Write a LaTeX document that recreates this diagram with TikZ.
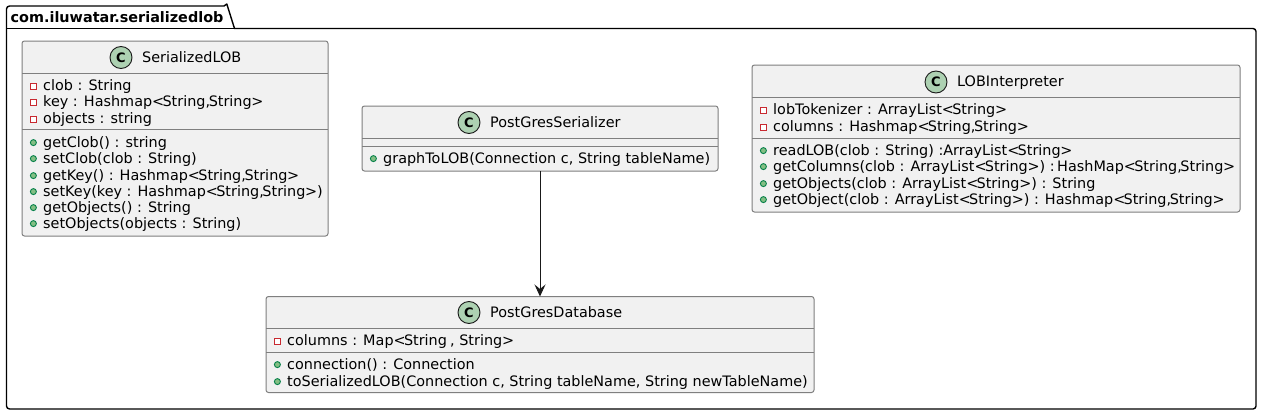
\documentclass[tikz,border=0pt]{standalone}
\usepackage{fontspec}
\setmainfont{DejaVu Sans}
\usetikzlibrary{arrows.meta}
\definecolor{boxfill}{HTML}{F1F1F1}
\definecolor{boxline}{HTML}{7F7F7F}
\definecolor{spot}{HTML}{ADD1B2}
\definecolor{privred}{HTML}{C82930}
\definecolor{privfill}{HTML}{FFFFFF}
\definecolor{pubgreen}{HTML}{84BE84}
\definecolor{publine}{HTML}{038048}
\newcommand{\lta}{<\kern-1.7pt}
\newcommand{\gta}{\kern-0.3pt>}
\newcommand{\cma}{,\kern-1.4pt}
\tikzset{
  x=1pt,y=-1pt,
  classbox/.style={draw=boxline,fill=boxfill,line width=1pt,rounded corners=2.5pt,anchor=north west,inner sep=0pt,outer sep=0pt},
  sepline/.style={draw=boxline,line width=1pt},
  spotmark/.style={circle,draw=black!90,fill=spot,line width=0.9pt,minimum size=22pt,inner sep=0pt,font=\fontsize{13}{13}\selectfont\bfseries},
  title/.style={anchor=base west,inner sep=0pt,font=\fontsize{14.4}{14.4}\selectfont},
  member/.style={anchor=base west,inner sep=0pt,font=\fontsize{14.4}{14.4}\selectfont},
  pkgline/.style={draw=black,line width=1.4pt,line join=round},
  conn/.style={draw=black!90,line width=0.9pt,-{Stealth[length=12pt,width=11pt,inset=4.5pt]}}
}
\newcommand{\privm}[4]{%
  \draw[privred,fill=privfill,line width=0.9pt] (#2+8.3,#3-6.7) rectangle (#2+14.3,#3-0.7);
  \node[member] (#1) at (#2+21,#3) {#4};}
\newcommand{\pubm}[4]{%
  \fill[pubgreen,draw=publine,line width=0.9pt] (#2+11.4,#3-4.4) circle[radius=3pt];
  \node[member] (#1) at (#2+21,#3) {#4};}
\begin{document}
\begin{tikzpicture}
\useasboundingbox (0,0) rectangle (1262,415);
% package
\draw[pkgline,fill=white] (6.5,28.5) -- (6.5,9) arc[start angle=180,end angle=270,radius=3] -- (224,6) arc[start angle=90,end angle=20,radius=3] -- (234.5,28.5) -- (1253,28.5) arc[start angle=-90,end angle=0,radius=3] -- (1256,406) arc[start angle=0,end angle=90,radius=3] -- (9.5,409) arc[start angle=90,end angle=180,radius=3] -- cycle;
\draw[pkgline] (6.5,28.5) -- (234.5,28.5);
\node[anchor=base west,inner sep=0pt,font=\fontsize{14.4}{14.4}\selectfont\bfseries] (pkg) at (10.5,22.5) {com.iluwatar.serializedlob};

% SerializedLOB
\node[classbox,minimum width=306pt,minimum height=195pt] (lob) at (22,41) {};
\draw[sepline] (22,73.5) -- (328,73.5) (22,129.5) -- (328,129.5);
\node[spotmark] (lobc) at (121,57.5) {C};
\node[title] (lobt) at (142,62) {SerializedLOB};
\privm{l1}{22}{90}{clob : String}
\privm{l2}{22}{106}{key : Hashmap\lta String\cma String\gta}
\privm{l3}{22}{123}{objects : string}
\pubm{l4}{22}{147}{getClob() : string}
\pubm{l5}{22}{163}{setClob(clob : String)}
\pubm{l6}{22}{180}{getKey() : Hashmap\lta String\cma String\gta}
\pubm{l7}{22}{196}{setKey(key : Hashmap\lta String\cma String\gta)}
\pubm{l8}{22}{212}{getObjects() : String}
\pubm{l9}{22}{228}{setObjects(objects : String)}

% PostGresSerializer
\node[classbox,minimum width=356pt,minimum height=65pt] (ser) at (362,106) {};
\draw[sepline] (362,138.5) -- (718,138.5) (362,146.5) -- (718,146.5);
\node[spotmark] (serc) at (469,122.5) {C};
\node[title] (sert) at (490,127) {PostGresSerializer};
\pubm{s1}{362}{163}{graphToLOB(Connection c, String tableName)}

% LOBInterpreter
\node[classbox,minimum width=488pt,minimum height=147pt] (int) at (752,65) {};
\draw[sepline] (752,97.5) -- (1240,97.5) (752,138.5) -- (1240,138.5);
\node[spotmark] (intc) at (936,82) {C};
\node[title] (intt) at (957,86) {LOBInterpreter};
\privm{i1}{752}{114}{lobTokenizer : ArrayList\lta String\gta}
\privm{i2}{752}{131}{columns : Hashmap\lta String\cma String\gta}
\pubm{i3}{752}{155}{readLOB(clob : String) :ArrayList\lta String\gta}
\pubm{i4}{752}{171}{getColumns(clob : ArrayList\lta String\gta) : \kern-3.5pt HashMap\lta String\cma String\gta}
\pubm{i5}{752}{188}{getObjects(clob : ArrayList\lta String\gta) : String}
\pubm{i6}{752}{204}{getObject(clob : ArrayList\lta String\gta) : Hashmap\lta String\cma String\gta}

% PostGresDatabase
\node[classbox,minimum width=548pt,minimum height=96pt] (db) at (266,296.5) {};
\draw[sepline] (266,328.5) -- (814,328.5) (266,352.5) -- (814,352.5);
\node[spotmark] (dbc) at (469,312.5) {C};
\node[title] (dbt) at (490,317) {PostGresDatabase};
\privm{d1}{266}{345}{columns : Map\lta String \kern-1.4pt, String\gta}
\pubm{d2}{266}{369}{connection() : Connection}
\pubm{d3}{266}{386}{toSerializedLOB(Connection c, String tableName, String newTableName)}

% connector
\draw[conn] (ser.south) -- (db.north);
\end{tikzpicture}
\end{document}
